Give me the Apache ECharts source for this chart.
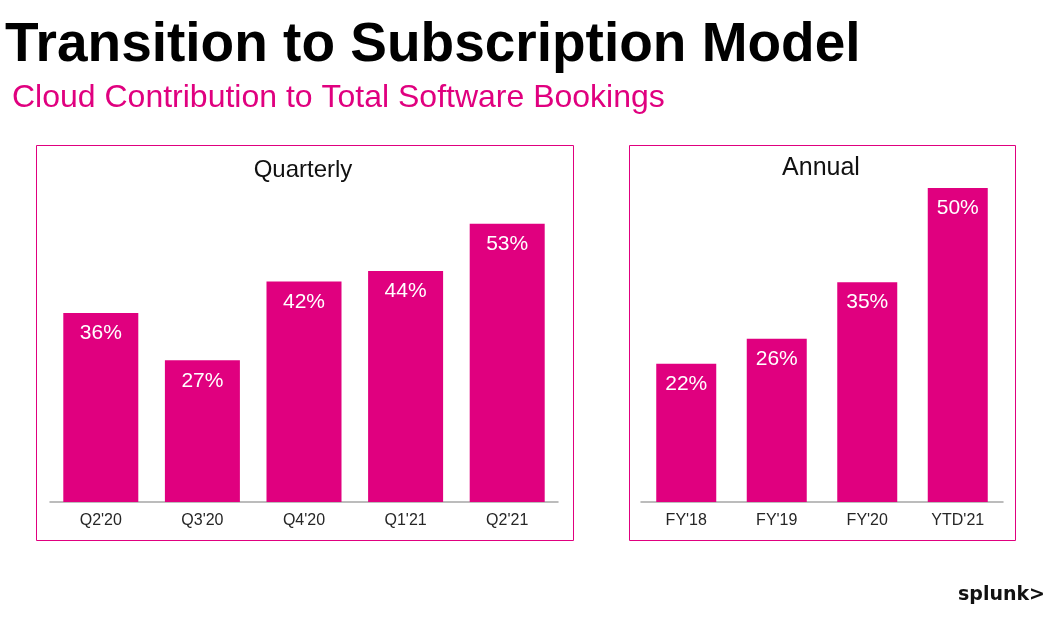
<!DOCTYPE html>
<html><head><meta charset="utf-8">
<script src="https://cdn.jsdelivr.net/npm/echarts@6/dist/echarts.min.js"></script>
<style>html,body{margin:0;padding:0;background:#fff;}#c{width:1046px;height:617px;}</style>
</head><body><div id="c"></div>
<script>
const quarterCats = ["Q2'20", "Q3'20", "Q4'20", "Q1'21", "Q2'21"];
const quarterVals = [36, 27, 42, 44, 53];
const annualCats = ["FY'18", "FY'19", "FY'20", "YTD'21"];
const annualVals = [22, 26, 35, 50];

const PINK = '#e0007f';
const FONT = '"Liberation Sans", Arial, sans-serif';
const chart = echarts.init(document.getElementById('c'));

const catAxis = (idx, data) => ({
  type: 'category', gridIndex: idx, data: data,
  axisLine: {lineStyle: {color: '#a6a6a6', width: 1.5}},
  axisTick: {show: false},
  axisLabel: {color: '#262626', fontSize: 16, fontFamily: FONT, margin: 11}
});
const valAxis = (idx, max) => ({
  type: 'value', gridIndex: idx, min: 0, max: max,
  show: false, splitLine: {show: false}
});
const barSeries = (idx, data, width) => ({
  type: 'bar', xAxisIndex: idx, yAxisIndex: idx, data: data,
  barWidth: width, itemStyle: {color: PINK},
  label: {show: true, position: 'insideTop', distance: 10, color: '#fff',
    fontSize: 21, fontFamily: FONT, formatter: '{c}%'}
});

chart.setOption({
  animation: false,
  grid: [
    {left: 50, right: 1046 - 558, top: 187, bottom: 617 - 502},
    {left: 641, right: 1046 - 1003, top: 188, bottom: 617 - 502}
  ],
  xAxis: [catAxis(0, quarterCats), catAxis(1, annualCats)],
  yAxis: [valAxis(0, 60), valAxis(1, 50)],
  series: [barSeries(0, quarterVals, 75), barSeries(1, annualVals, 60)],
  graphic: [
    {type: 'rect', shape: {x: 36.5, y: 145.5, width: 537, height: 395},
      style: {fill: 'none', stroke: PINK, lineWidth: 1}},
    {type: 'rect', shape: {x: 629.5, y: 145.5, width: 386, height: 395},
      style: {fill: 'none', stroke: PINK, lineWidth: 1}},
    {type: 'text', left: 5, top: 18,
      style: {text: 'Transition to Subscription Model', fill: '#000', font: 'bold 55px ' + FONT}},
    {type: 'text', left: 12, top: 82,
      style: {text: 'Cloud Contribution to Total Software Bookings', fill: PINK, font: '32px ' + FONT}},
    {type: 'text', x: 303, y: 170,
      style: {text: 'Quarterly', fill: '#111', font: '24px ' + FONT, textAlign: 'center', textVerticalAlign: 'middle'}},
    {type: 'text', x: 821, y: 168,
      style: {text: 'Annual', fill: '#111', font: '25px ' + FONT, textAlign: 'center', textVerticalAlign: 'middle'}},
    {type: 'text', x: 1045, y: 595,
      style: {text: 'splunk>', fill: '#111', font: 'bold 19px "DejaVu Sans", sans-serif', textAlign: 'right', textVerticalAlign: 'middle'}}
  ]
});
</script></body></html>
